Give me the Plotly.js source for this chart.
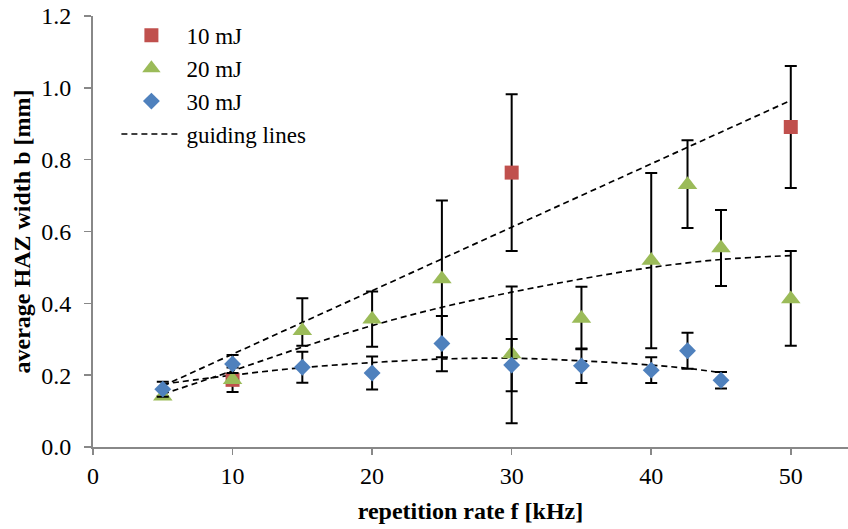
<!DOCTYPE html>
<html>
<head>
<meta charset="utf-8">
<script src="https://cdn.plot.ly/plotly-3.0.1.min.js"></script>
<style>html,body{margin:0;padding:0;background:#fff;}#chart{width:848px;height:529px;}</style>
</head>
<body>
<div id="chart"></div>
<script>
// 10 mJ
var x10 = [10, 30, 50];
var y10 = [0.187, 0.764, 0.891];
var e10 = [0.034, 0.218, 0.170];
// 20 mJ
var x20 = [5, 10, 15, 20, 25, 30, 35, 40, 42.6, 45, 50];
var y20 = [0.141, 0.187, 0.324, 0.356, 0.468, 0.259, 0.358, 0.519, 0.730, 0.554, 0.412];
var e20p = [0.00, 0.00, 0.090, 0.077, 0.218, 0.188, 0.088, 0.244, 0.124, 0.106, 0.134];
var e20m = [0.00, 0.00, 0.042, 0.077, 0.218, 0.193, 0.086, 0.244, 0.120, 0.106, 0.130];
// 30 mJ
var x30 = [5, 10, 15, 20, 25, 30, 35, 40, 42.6, 45];
var y30 = [0.161, 0.231, 0.222, 0.206, 0.288, 0.228, 0.226, 0.214, 0.268, 0.186];
var e30 = [0.021, 0.025, 0.043, 0.046, 0.077, 0.073, 0.048, 0.036, 0.050, 0.023];
// guiding lines
var gx10 = [5, 10, 30, 50];
var gy10 = [0.170, 0.258, 0.612, 0.965];
var gx20 = [5, 10, 15, 20, 25, 30, 35, 40, 45, 50];
var gy20 = [0.147, 0.212, 0.278, 0.338, 0.389, 0.431, 0.468, 0.500, 0.522, 0.533];
var gx30 = [5, 10, 15, 20, 25, 30, 35, 40, 42.6, 45];
var gy30 = [0.175, 0.200, 0.221, 0.235, 0.245, 0.247, 0.240, 0.228, 0.219, 0.207];
// labels
var seriesNames = ['10 mJ', '20 mJ', '30 mJ', 'guiding lines'];
var xTicks = [0, 10, 20, 30, 40, 50];
var yTicks = [0, 0.2, 0.4, 0.6, 0.8, 1.0, 1.2];
var yTickText = ['0.0', '0.2', '0.4', '0.6', '0.8', '1.0', '1.2'];

var serif = 'Liberation Serif, Times New Roman, serif';
var errStyle = {color: '#000', thickness: 2, width: 6};
function dashLine(shape) { return {color: '#000', width: 1.7, dash: '6px,4px', shape: shape}; }

var traces = [
  {x: gx10, y: gy10, mode: 'lines', line: dashLine('linear'), showlegend: false, hoverinfo: 'skip'},
  {x: gx20, y: gy20, mode: 'lines', line: dashLine('spline'), showlegend: false, hoverinfo: 'skip'},
  {x: gx30, y: gy30, mode: 'lines', line: dashLine('spline'), showlegend: false, hoverinfo: 'skip'},
  {x: x10, y: y10, name: seriesNames[0], mode: 'markers', legendgroup: 'a',
   marker: {symbol: 'square', size: 14, color: '#C0504D'},
   error_y: Object.assign({type: 'data', array: e10, visible: true}, errStyle)},
  {x: x20, y: y20, name: seriesNames[1], mode: 'markers', legendgroup: 'b',
   marker: {symbol: 'triangle-up', size: 17, color: '#9BBB59'},
   error_y: Object.assign({type: 'data', array: e20p, arrayminus: e20m, symmetric: false, visible: true}, errStyle)},
  {x: x30, y: y30, name: seriesNames[2], mode: 'markers', legendgroup: 'c',
   marker: {symbol: 'diamond', size: 13, color: '#4F81BD'},
   error_y: Object.assign({type: 'data', array: e30, visible: true}, errStyle)},
  {x: [null], y: [null], name: seriesNames[3], mode: 'lines', line: dashLine('linear'), legendgroup: 'd'}
];

var layout = {
  width: 848, height: 529,
  margin: {l: 93, r: 0, t: 16, b: 82},
  paper_bgcolor: '#fff', plot_bgcolor: '#fff',
  font: {family: serif, size: 24, color: '#000'},
  showlegend: true,
  legend: {x: 0.031, y: 1.005, xanchor: 'left', yanchor: 'top', bgcolor: 'rgba(0,0,0,0)',
           font: {family: serif, size: 23}, tracegroupgap: 0, traceorder: 'grouped', itemwidth: 60},
  xaxis: {
    range: [0, 54.1], tickvals: xTicks,
    showgrid: false, zeroline: false, showline: true, linecolor: '#888', linewidth: 2,
    ticks: 'outside', ticklen: 6, tickwidth: 1.5, tickcolor: '#888', ticklabelstandoff: 0,
    tickfont: {family: serif, size: 24},
    title: {text: 'repetition rate f [kHz]', font: {family: serif, size: 24, weight: 'bold'}, standoff: 14}
  },
  yaxis: {
    range: [0, 1.2], tickvals: yTicks, ticktext: yTickText,
    showgrid: false, zeroline: false, showline: true, linecolor: '#888', linewidth: 2,
    ticks: 'outside', ticklen: 7, tickwidth: 1.5, tickcolor: '#888', ticklabelstandoff: 8,
    tickfont: {family: serif, size: 24},
    title: {text: 'average HAZ width b [mm]', font: {family: serif, size: 24, weight: 'bold'}, standoff: 4}
  }
};
Plotly.newPlot('chart', traces, layout, {staticPlot: true});
</script>
</body>
</html>
